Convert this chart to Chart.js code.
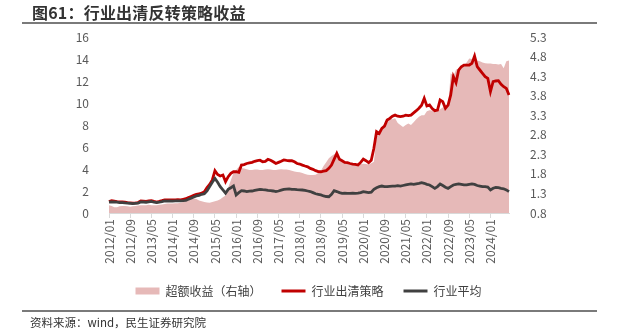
<!DOCTYPE html>
<html>
<head>
<meta charset="utf-8">
<script src="https://cdn.jsdelivr.net/npm/chart.js@4/dist/chart.umd.min.js"></script>
<style>
  body { margin: 0; background: #fff; }
  #wrap { position: relative; width: 617px; height: 332px; overflow: hidden; font-family: "Noto Sans CJK SC", sans-serif; }
  #chart { position: absolute; left: 0; top: 0; }
  .title { position: absolute; left: 32px; top: 4px; font-size: 16px; line-height: 16px; font-weight: bold; color: #333; letter-spacing: 0.2px; }
  .rule { position: absolute; left: 22px; width: 575px; height: 2px; background: #7a7a7a; }
  .source { position: absolute; left: 30px; top: 314px; font-size: 11.5px; color: #333; }
</style>
</head>
<body>
<div id="wrap">
  <canvas id="chart" width="617" height="332"></canvas>
  <div class="title">图61：行业出清反转策略收益</div>
  <div class="rule" style="top:22px"></div>
  <div class="rule" style="top:310px"></div>
  <div class="source">资料来源：wind，民生证券研究院</div>
</div>
<script>
// monthly points, 2012/01 .. 2024/08
const startYear = 2012;
const monthCount = 152;
const months = [];
for (let i = 0; i < monthCount; i++) {
    const y = startYear + Math.floor(i / 12);
    const m = (i % 12) + 1;
    months.push(`${y}/${m < 10 ? '0' + m : m}`);
}

// x labels that get printed
const xTickLabels = ['2012/01', '2012/09', '2013/05', '2014/01', '2014/09', '2015/05', '2016/01',
    '2016/09', '2017/05', '2018/01', '2018/09', '2019/05', '2020/01', '2020/09', '2021/05',
    '2022/01', '2022/09', '2023/05', '2024/01'];
const rightTicks = [0.8, 1.3, 1.8, 2.3, 2.8, 3.3, 3.8, 4.3, 4.8, 5.3];

// 行业出清策略 (left axis)
const strategy = [
    1.03, 1.12, 1.08, 1.03, 1.02, 1.00, 0.98, 0.95, 0.93, 0.90, 0.92, 0.95,
    1.10, 1.08, 1.05, 1.10, 1.12, 1.05, 1.00, 1.05, 1.12, 1.20, 1.18, 1.20,
    1.18, 1.20, 1.22, 1.20, 1.25, 1.30, 1.40, 1.50, 1.60, 1.70, 1.75, 1.80,
    1.94, 2.30, 2.60, 3.00, 3.85, 3.50, 3.36, 3.45, 2.85, 3.30, 3.60, 3.75,
    3.75, 3.70, 4.36, 4.40, 4.50, 4.55, 4.60, 4.70, 4.76, 4.80, 4.66, 4.70,
    4.88, 4.80, 4.66, 4.50, 4.60, 4.70, 4.82, 4.78, 4.75, 4.76, 4.65, 4.50,
    4.45, 4.35, 4.27, 4.20, 4.05, 3.97, 3.85, 3.76, 3.75, 3.80, 3.85, 4.06,
    4.36, 4.90, 5.42, 4.88, 4.75, 4.60, 4.57, 4.50, 4.45, 4.42, 4.36, 4.60,
    4.90, 4.75, 4.57, 4.80, 5.88, 7.40, 7.24, 7.70, 7.90, 8.45, 8.60, 8.80,
    8.90, 8.80, 8.76, 8.80, 8.90, 8.85, 8.90, 9.10, 9.30, 9.52, 9.80, 10.43,
    9.73, 9.82, 9.50, 9.30, 9.36, 10.27, 10.12, 9.52, 9.80, 10.73, 12.40, 11.85,
    13.00, 13.30, 13.45, 13.45, 13.45, 13.60, 14.27, 13.30, 13.00, 12.70, 12.40, 12.24,
    11.03, 11.94, 12.00, 12.03, 11.70, 11.48, 11.33, 10.73
];

// 行业平均 (left axis)
const industryAvg = [
    1.00, 1.02, 1.00, 0.98, 0.95, 0.95, 0.92, 0.90, 0.88, 0.85, 0.88, 0.90,
    1.00, 1.00, 0.98, 1.02, 1.05, 0.98, 0.95, 0.98, 1.03, 1.10, 1.08, 1.10,
    1.08, 1.10, 1.10, 1.10, 1.12, 1.15, 1.25, 1.35, 1.45, 1.55, 1.60, 1.70,
    1.75, 2.00, 2.40, 2.80, 3.15, 2.80, 2.40, 2.10, 1.80, 2.15, 2.30, 2.46,
    1.64, 1.85, 2.03, 2.00, 1.94, 1.98, 2.00, 2.05, 2.10, 2.15, 2.12, 2.10,
    2.05, 2.03, 2.00, 1.94, 2.00, 2.08, 2.15, 2.18, 2.20, 2.15, 2.15, 2.12,
    2.10, 2.09, 2.05, 2.00, 1.95, 1.85, 1.75, 1.70, 1.64, 1.55, 1.50, 1.48,
    1.70, 2.03, 1.95, 1.85, 1.79, 1.80, 1.78, 1.79, 1.80, 1.79, 1.80, 1.85,
    1.94, 1.90, 1.85, 1.90, 2.15, 2.30, 2.40, 2.45, 2.40, 2.39, 2.42, 2.45,
    2.45, 2.48, 2.45, 2.50, 2.55, 2.60, 2.64, 2.60, 2.65, 2.70, 2.76, 2.70,
    2.60, 2.55, 2.40, 2.24, 2.40, 2.64, 2.50, 2.35, 2.24, 2.40, 2.55, 2.60,
    2.64, 2.60, 2.55, 2.55, 2.60, 2.64, 2.60, 2.50, 2.45, 2.40, 2.39, 2.35,
    2.09, 2.25, 2.33, 2.30, 2.24, 2.20, 2.10, 1.94
];

// 超额收益 (right axis)
const excess = [
    1.00, 0.98, 0.95, 0.95, 0.97, 0.98, 0.98, 0.97, 0.96, 0.97, 0.98, 0.99,
    1.00, 1.00, 1.00, 1.01, 1.00, 1.00, 1.00, 1.01, 1.02, 1.03, 1.04, 1.04,
    1.04, 1.05, 1.05, 1.06, 1.08, 1.10, 1.12, 1.15, 1.17, 1.16, 1.12, 1.10,
    1.08, 1.07, 1.06, 1.08, 1.10, 1.12, 1.15, 1.20, 1.25, 1.45, 1.64, 1.82,
    1.90, 1.98, 1.95, 1.94, 1.92, 1.90, 1.90, 1.91, 1.91, 1.90, 1.90, 1.91,
    1.92, 1.91, 1.90, 1.90, 1.91, 1.92, 1.91, 1.91, 1.90, 1.88, 1.86, 1.85,
    1.84, 1.82, 1.80, 1.78, 1.77, 1.77, 1.78, 1.82, 1.88, 2.00, 2.10, 2.20,
    2.26, 2.30, 2.32, 2.20, 2.11, 2.08, 2.05, 2.04, 2.05, 2.03, 2.04, 2.05,
    2.06, 2.05, 2.04, 2.07, 2.11, 2.75, 2.85, 2.92, 3.00, 3.10, 3.22, 3.20,
    3.22, 3.10, 3.05, 3.00, 3.05, 3.09, 3.05, 3.12, 3.20, 3.26, 3.30, 3.30,
    3.40, 3.43, 3.42, 3.42, 3.42, 3.45, 3.50, 3.52, 3.50, 4.37, 4.30, 4.46,
    4.50, 4.55, 4.58, 4.65, 4.75, 4.74, 4.71, 4.70, 4.68, 4.65, 4.63, 4.62,
    4.62, 4.61, 4.61, 4.60, 4.61, 4.50, 4.68, 4.70
];

const tickColor = '#595959';
const tickFont = { family: '"Noto Sans CJK SC", sans-serif', size: 12 };

new Chart(document.getElementById('chart'), {
    type: 'line',
    data: {
        labels: months,
        datasets: [
            {
                label: '超额收益（右轴）',
                data: excess,
                yAxisID: 'y1',
                fill: 'start',
                backgroundColor: '#e6b9b8',
                borderWidth: 0,
                pointRadius: 0,
                order: 3
            },
            {
                label: '行业出清策略',
                data: strategy,
                yAxisID: 'y',
                borderColor: '#c00000',
                backgroundColor: '#c00000',
                borderWidth: 2.8,
                pointRadius: 0,
                order: 2
            },
            {
                label: '行业平均',
                data: industryAvg,
                yAxisID: 'y',
                borderColor: '#404040',
                backgroundColor: '#404040',
                borderWidth: 2.8,
                pointRadius: 0,
                order: 1
            }
        ]
    },
    options: {
        responsive: false,
        animation: false,
        layout: { padding: { top: 37, left: 0, right: 0, bottom: 25 } },
        plugins: {
            tooltip: { enabled: false },
            legend: {
                position: 'bottom',
                labels: {
                    color: '#404040',
                    font: tickFont,
                    usePointStyle: true,
                    pointStyleWidth: 24,
                    boxHeight: 7,
                    padding: 20,
                    generateLabels(chart) {
                        return chart.data.datasets.map((ds, i) => ({
                            text: ds.label,
                            datasetIndex: i,
                            fillStyle: ds.backgroundColor,
                            strokeStyle: i === 0 ? ds.backgroundColor : ds.borderColor,
                            lineWidth: i === 0 ? 0 : 3,
                            pointStyle: i === 0 ? 'rect' : 'line',
                            fontColor: '#404040'
                        }));
                    }
                }
            }
        },
        scales: {
            x: {
                grid: { drawOnChartArea: false, drawTicks: true, tickLength: 5, color: '#d9d9d9' },
                border: { color: '#d9d9d9' },
                ticks: {
                    autoSkip: false,
                    minRotation: 90,
                    maxRotation: 90,
                    padding: 1,
                    color: tickColor,
                    font: tickFont,
                    callback(value, index) {
                        const lab = months[index];
                        return xTickLabels.includes(lab) ? lab : null;
                    }
                },
                afterFit(scale) { scale.height = 52; }
            },
            y: {
                position: 'left',
                min: 0,
                max: 16,
                grid: { display: false },
                border: { display: false },
                ticks: { stepSize: 2, padding: 12, color: tickColor, font: tickFont },
                afterFit(scale) { scale.width = 109; }
            },
            y1: {
                position: 'right',
                min: 0.8,
                max: 5.3,
                grid: { display: false },
                border: { display: false },
                afterBuildTicks(scale) { scale.ticks = rightTicks.map(v => ({ value: v })); },
                ticks: {
                    padding: 13,
                    color: tickColor,
                    font: tickFont,
                    callback(v) { return v.toFixed(1); }
                },
                afterFit(scale) { scale.width = 108; }
            }
        }
    }
});
</script>
</body>
</html>
